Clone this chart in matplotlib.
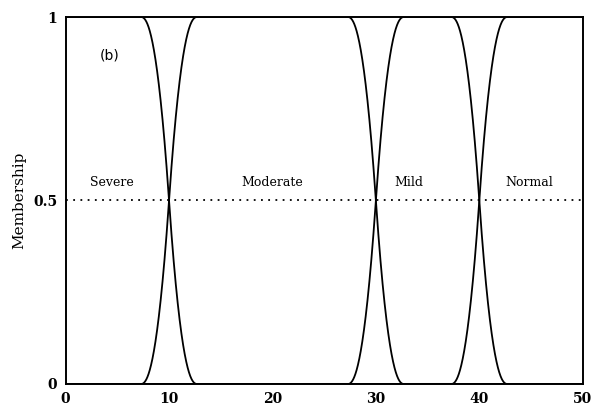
import numpy as np
import matplotlib.pyplot as plt

# crossover points between neighbouring classes
crossings = [10, 30, 40]
half_width = 2.7   # half length of each transition zone
power = 2.2
labels = ["Severe", "Moderate", "Mild", "Normal"]
label_x = [4.5, 20, 33.2, 44.8]
label_y = 0.548


def rise(x, c):
    # goes 0 -> 1 around c, flat outside c +- half_width
    d = np.clip((x - c) / half_width, -1, 1)
    return 0.5 + 0.5 * np.sign(d) * (1 - (1 - np.abs(d)) ** power)


x = np.linspace(0, 50, 4001)
curves = []
edges = [None] + crossings + [None]
for i in range(len(labels)):
    lo = edges[i]
    hi = edges[i + 1]
    y = np.ones_like(x)
    if lo is not None:
        y = y * rise(x, lo)
    if hi is not None:
        y = y * (1 - rise(x, hi))
    curves.append(y)

fig = plt.figure(figsize=(5.91, 4.12), dpi=100)
ax = fig.add_axes([0.111, 0.068, 0.875, 0.8907])

for y in curves:
    ax.plot(x, y, color="black", lw=1.3)

ax.axhline(0.5, color="black", lw=1.3, ls=(0, (1, 3)))

for name, lx in zip(labels, label_x):
    ax.text(lx, label_y, name, ha="center", va="center",
            family="DejaVu Serif", fontsize=9)

ax.text(4.25, 0.894, "(b)", ha="center", va="center",
        family="DejaVu Sans", fontsize=10)

ax.set_xlim(0, 50)
ax.set_ylim(0, 1)
ax.set_xticks([0, 10, 20, 30, 40, 50])
ax.set_yticks([0, 0.5, 1])
ax.set_yticklabels(["0", "0.5", "1"])
ax.tick_params(length=0, pad=6)
for lab in ax.get_xticklabels() + ax.get_yticklabels():
    lab.set_family("DejaVu Serif")
    lab.set_fontweight("bold")
    lab.set_fontsize(10)
for sp in ax.spines.values():
    sp.set_linewidth(1.4)

ax.set_ylabel("Membership", family="DejaVu Serif", fontsize=11, labelpad=5)

fig.savefig("out.png", dpi=100)
